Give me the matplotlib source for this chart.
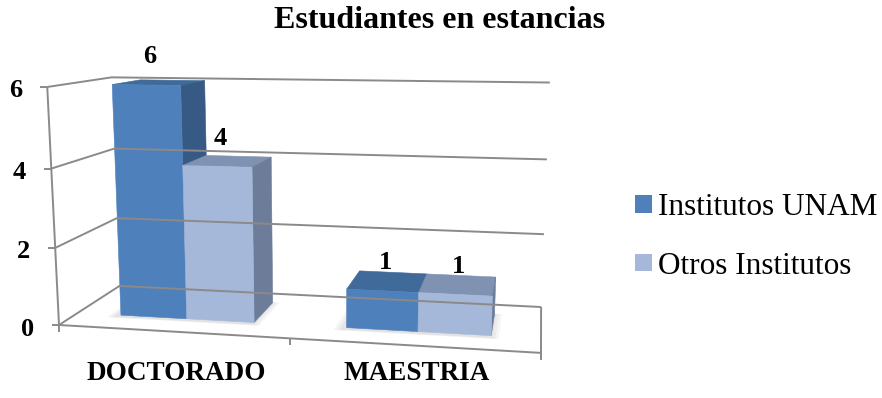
import numpy as np
import matplotlib.pyplot as plt
from matplotlib.patches import Polygon, Patch

plt.rcParams['font.family'] = ['Liberation Serif', 'DejaVu Serif']

# Data
categories = ['DOCTORADO', 'MAESTRIA']
series = ['Institutos UNAM', 'Otros Institutos']
unam = [6, 1]
otros = [4, 1]
value_ticks = [0, 2, 4, 6]

front_colors = ['#4e80bb', '#a5b8d9']
side_colors = ['#375a84', '#6d7d99']
top_colors = ['#3f6a99', '#8092b2']
grid_color = '#8a8a8a'

# Perspective camera for the 3D look (screen units are pixels)
yaw = np.radians(11)
pitch = np.radians(11)
focal = 1080.0
cx, cy = 328.0, 223.0
cam = np.array([-269.0, 102.0, 1080.0])
cat_w = 236.6          # width of one category
unit_h = 236.7 / 6     # height of one value unit
depth = 160.5          # floor depth

ex = np.array([np.cos(yaw), np.sin(pitch) * np.sin(yaw), -np.cos(pitch) * np.sin(yaw)])
ey = np.array([0.0, -np.cos(pitch), -np.sin(pitch)])
ez = np.array([np.sin(yaw), -np.sin(pitch) * np.cos(yaw), np.cos(pitch) * np.cos(yaw)])


def project(x, y, z):
    # x in categories, y in value units, z as fraction of floor depth
    c = cam + ex * x * cat_w + ey * y * unit_h + ez * z * depth
    return cx + focal * c[0] / c[2], cy + focal * c[1] / c[2]


def line3d(ax, pts, **kw):
    xy = np.array([project(*p) for p in pts])
    ax.plot(xy[:, 0], xy[:, 1], **kw)


def face(ax, pts, color, **kw):
    xy = [project(*p) for p in pts]
    ax.add_patch(Polygon(xy, closed=True, facecolor=color, edgecolor=color, lw=0.4, **kw))


fig = plt.figure(figsize=(8.82, 3.98), dpi=100)
ax = fig.add_axes([0, 0, 1, 1])
ax.set_xlim(0, 882)
ax.set_ylim(398, 0)
ax.axis('off')

n_cat = len(categories)
ymax = max(value_ticks)
gl = dict(color=grid_color, lw=1.4, solid_capstyle='butt')

# walls: gridlines on the left and back wall
for v in value_ticks:
    line3d(ax, [(0, v, 0), (0, v, 1), (n_cat, v, 1)], **gl)
    px, py = project(0, v, 0)
    ax.plot([px - 7, px], [py, py], **gl)
    ax.text(px - 25, py + 4, str(v), ha='right', va='center',
            fontsize=19, fontweight='bold')

# value axis and floor edges
line3d(ax, [(0, 0, 0), (0, ymax, 0)], **gl)
line3d(ax, [(0, 0, 0), (n_cat, 0, 0), (n_cat, 0, 1)], **gl)
for k in range(n_cat + 1):
    px, py = project(k, 0, 0)
    ax.plot([px, px], [py, py + 7], **gl)

for k, cat in enumerate(categories):
    px, py = project(k + 0.5, 0, 0)
    ax.text(px + 4, 373, cat, ha='center', va='center', fontsize=19.5, fontweight='bold')

# bars
bar_w = 0.3
bar_off = 0.2
z0, z1 = 0.285, 0.77
values = [unam, otros]

# soft shadows on the floor
for k in range(n_cat):
    xa = k + bar_off
    xb = k + bar_off + bar_w * len(values)
    for m in [0.03, 0.018, 0.006]:
        face(ax, [(xa - m - 0.015, 0, z0 - m - 0.03), (xb + m, 0, z0 - m - 0.03),
                  (xb + m, 0, z1), (xa - m - 0.015, 0, z1)], '#000000', alpha=0.035)

for k in range(n_cat):
    for i, vals in enumerate(values):
        h = vals[k]
        x0 = k + bar_off + i * bar_w
        x1 = x0 + bar_w
        face(ax, [(x0, h, z0), (x1, h, z0), (x1, h, z1), (x0, h, z1)], top_colors[i])
        face(ax, [(x1, 0, z0), (x1, 0, z1), (x1, h, z1), (x1, h, z0)], side_colors[i])
        face(ax, [(x0, 0, z0), (x1, 0, z0), (x1, h, z0), (x0, h, z0)], front_colors[i])
        px, py = project((x0 + x1) / 2, h, z0)
        ax.text(px + 3, py - 28, str(h), ha='center', va='center',
                fontsize=19, fontweight='bold')

ax.text(440, 20, 'Estudiantes en estancias', ha='center', va='center',
        fontsize=23, fontweight='bold')

handles = [Patch(facecolor=c, edgecolor='none') for c in front_colors]
fig.legend(handles, series, loc='center left', bbox_to_anchor=(0.72, 0.405),
           frameon=False, fontsize=22.5, handlelength=0.55, handleheight=0.5,
           handletextpad=0.2, labelspacing=0.95, borderaxespad=0, borderpad=0)

fig.savefig('out.png', dpi=100)
